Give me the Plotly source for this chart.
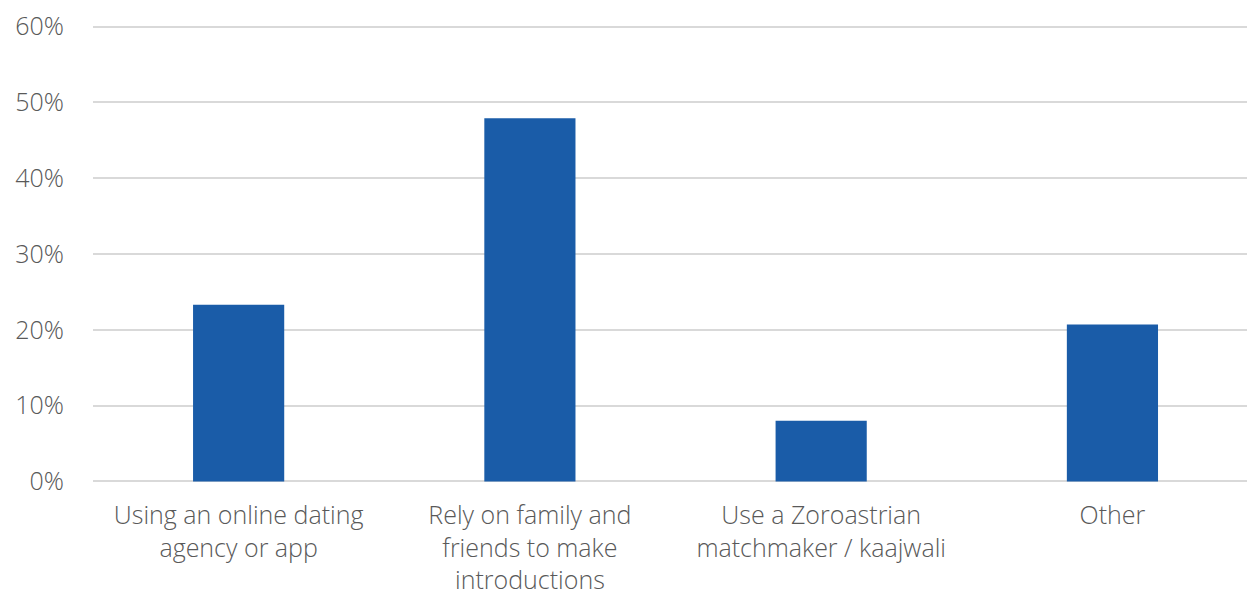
import plotly.graph_objects as go

categories = [
    "Using an online dating<br>agency or app",
    "Rely on family and<br>friends to make<br>introductions",
    "Use a Zoroastrian<br>matchmaker / kaajwali",
    "Other",
]
shares = [0.233, 0.479, 0.080, 0.207]
tick_values = [0, 0.1, 0.2, 0.3, 0.4, 0.5, 0.6]
tick_labels = ["0%", "10%", "20%", "30%", "40%", "50%", "60%"]

label_font = dict(family="Open Sans", size=25, color="#595959", weight=300)

fig = go.Figure(
    go.Bar(
        x=list(range(len(categories))),
        y=shares,
        marker=dict(color="#1a5ca8", line=dict(width=0)),
        width=0.313,
        hoverinfo="skip",
    )
)

# small padding on the value range keeps the 0% and 60% gridlines visible
fig.update_layout(
    width=1247,
    height=595,
    margin=dict(l=93, r=0, t=25, b=112),
    paper_bgcolor="white",
    plot_bgcolor="white",
    showlegend=False,
    font=label_font,
)

fig.update_xaxes(
    range=[-0.5, 3.462],
    tickmode="array",
    tickvals=list(range(len(categories))),
    ticktext=categories,
    showgrid=False,
    zeroline=False,
    showline=False,
    ticks="",
    ticklabelstandoff=15,
    tickfont=label_font,
    automargin=False,
)

fig.update_yaxes(
    range=[-0.002, 0.602],
    tickmode="array",
    tickvals=tick_values,
    ticktext=tick_labels,
    showgrid=True,
    gridcolor="#d9d9d9",
    gridwidth=1.5,
    zeroline=False,
    showline=False,
    ticks="",
    ticklabelstandoff=28,
    tickfont=label_font,
    automargin=False,
)

fig.write_html("out.html")
